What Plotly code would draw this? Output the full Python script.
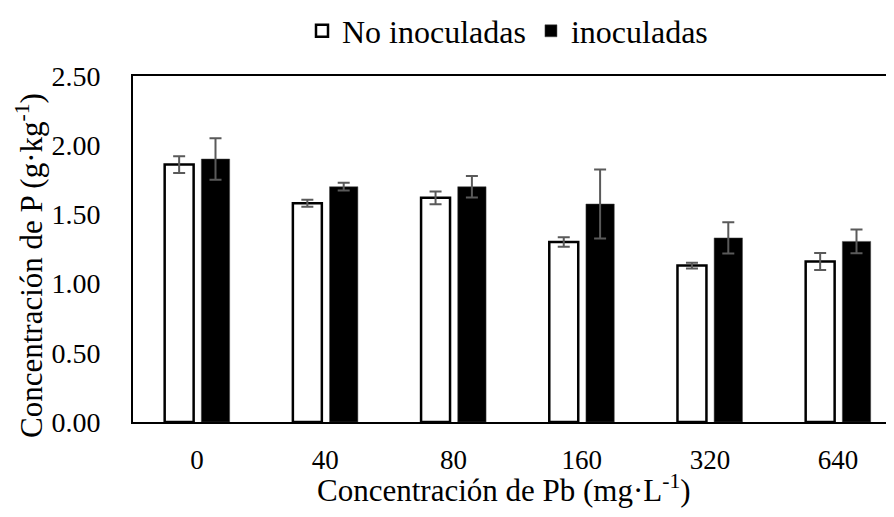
import plotly.graph_objects as go

categories = ["0", "40", "80", "160", "320", "640"]
no_inoc = [1.86, 1.58, 1.62, 1.30, 1.13, 1.16]
no_inoc_err = [0.06, 0.025, 0.046, 0.034, 0.02, 0.062]
inoc = [1.90, 1.70, 1.70, 1.575, 1.33, 1.305]
inoc_err = [0.15, 0.028, 0.077, 0.25, 0.113, 0.086]
yticks = [0, 0.5, 1.0, 1.5, 2.0, 2.5]
ytick_text = ["0.00", "0.50", "1.00", "1.50", "2.00", "2.50"]

FONT = "Liberation Serif"
ERR = "#5a5a5a"

fig = go.Figure()
fig.add_trace(go.Bar(
    x=categories, y=no_inoc, name="No inoculadas",
    offset=-0.253, width=0.226,
    marker=dict(color="white", line=dict(color="black", width=2.5)),
    error_y=dict(type="data", array=no_inoc_err, visible=True,
                 color=ERR, thickness=2, width=6),
))
fig.add_trace(go.Bar(
    x=categories, y=inoc, name="inoculadas",
    offset=0.033, width=0.221,
    marker=dict(color="black", line=dict(color="#444444", width=0.5)),
    error_y=dict(type="data", array=inoc_err, visible=True,
                 color=ERR, thickness=2, width=6),
))

# the page adds an 8px body margin, so the figure is laid out 8px up/left
fig.update_layout(
    width=894, height=517,
    margin=dict(l=125, r=8, t=68, b=103, autoexpand=False),
    paper_bgcolor="white", plot_bgcolor="white",
    barmode="overlay",
    font=dict(family=FONT, size=28, color="black"),
    showlegend=True,
    legend=dict(orientation="h", x=294 / 894, xanchor="left", xref="container",
                y=1 - 23 / 517, yanchor="middle", yref="container",
                font=dict(family=FONT, size=32, color="black"),
                itemwidth=30, tracegroupgap=0),
    xaxis=dict(
        type="category", range=[-0.5, 5.436], automargin=False,
        showline=True, linecolor="black", linewidth=2, mirror=True,
        ticks="", showgrid=False, ticklabelstandoff=13,
        tickfont=dict(family=FONT, size=27, color="black"),
    ),
    yaxis=dict(
        range=[0, 2.5], tickvals=yticks, ticktext=ytick_text, automargin=False,
        showline=True, linecolor="black", linewidth=2, mirror=False,
        ticks="", showgrid=False, zeroline=False, ticklabelstandoff=25,
        tickfont=dict(family=FONT, size=28, color="black"),
    ),
    annotations=[
        dict(text="Concentración de Pb (mg·L<sup>-1</sup>)", xref="paper", yref="paper",
             x=(504 - 133) / 761, y=0, yshift=-66, xanchor="center", yanchor="middle",
             showarrow=False, font=dict(family=FONT, size=31, color="black")),
        dict(text="Concentración de P (g·kg<sup>-1</sup>)", xref="paper", yref="paper",
             x=0, xshift=-104, y=(422 - 266) / 346, xanchor="center", yanchor="middle",
             textangle=-90, showarrow=False,
             font=dict(family=FONT, size=31, color="black")),
    ],
)

fig.write_html("out.html")
